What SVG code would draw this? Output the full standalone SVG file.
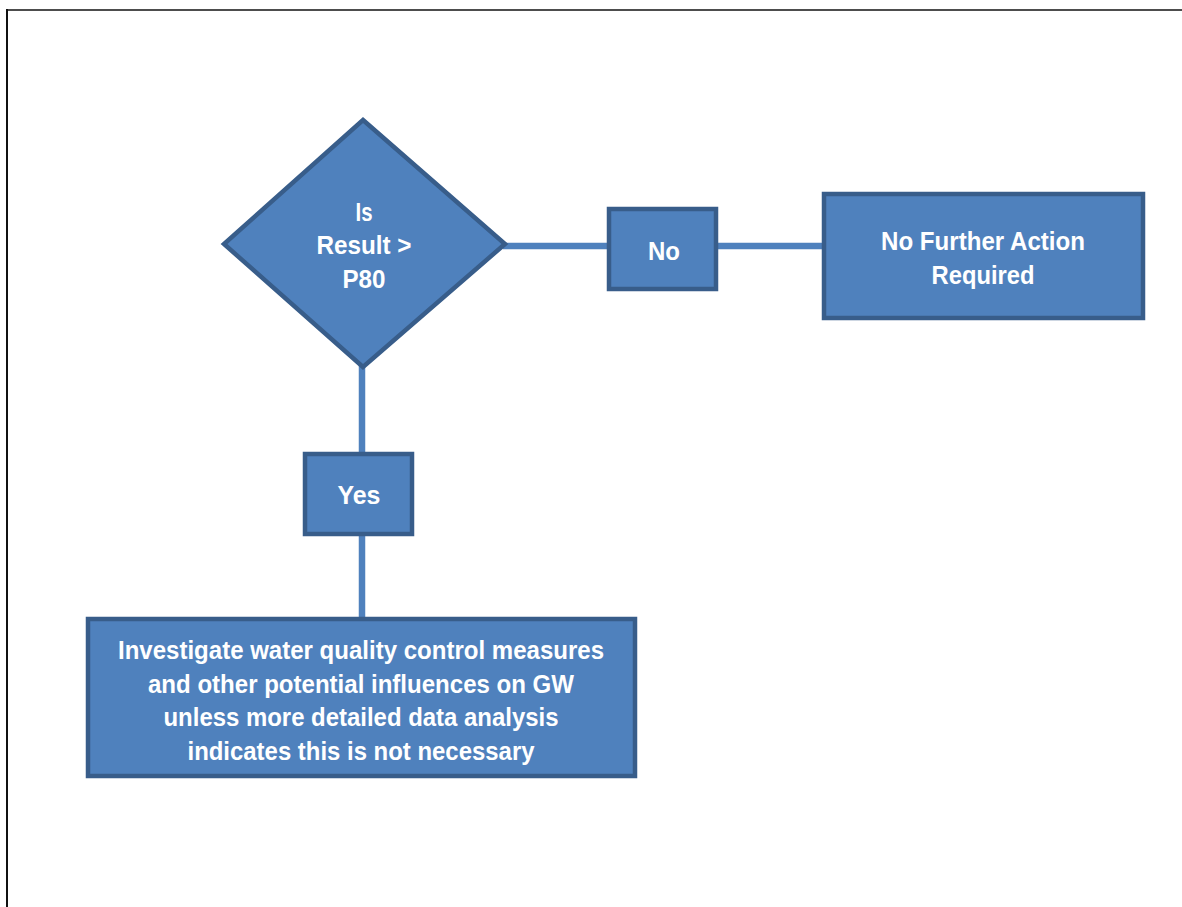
<svg xmlns="http://www.w3.org/2000/svg" width="1182" height="907" viewBox="0 0 1182 907">
  <style>
    .node { fill: #4f81bd; stroke: #385d8a; stroke-width: 4.5; }
    .conn { stroke: #4f81bd; stroke-width: 6.5; fill: none; }
    .lbl { font-family: "Liberation Sans", Arial, sans-serif; font-weight: bold; font-size: 26.5px; fill: #ffffff; text-anchor: middle; }
  </style>
  <rect x="0" y="0" width="1182" height="907" fill="#ffffff"/>
  <g id="frame">
    <line x1="6" y1="10" x2="1182" y2="10" stroke="#4d4d4d" stroke-width="2"/>
    <line x1="7" y1="9" x2="7" y2="907" stroke="#111111" stroke-width="2"/>
  </g>
  <g id="connectors">
    <line class="conn" x1="503" y1="246" x2="609" y2="246"/>
    <line class="conn" x1="718" y1="246" x2="824" y2="246"/>
    <line class="conn" x1="362" y1="365" x2="362" y2="454"/>
    <line class="conn" x1="362" y1="536" x2="362" y2="619"/>
  </g>
  <g id="decision">
    <polygon class="node" points="363,120 505,244 363,367 224,244"/>
    <text class="lbl" x="364" y="220.5" textLength="17" lengthAdjust="spacingAndGlyphs">Is</text>
    <text class="lbl" x="364" y="254" textLength="95" lengthAdjust="spacingAndGlyphs">Result &gt;</text>
    <text class="lbl" x="364" y="287.5" textLength="43" lengthAdjust="spacingAndGlyphs">P80</text>
  </g>
  <g id="no">
    <rect class="node" x="609" y="209" width="107" height="80"/>
    <text class="lbl" x="664" y="259.5" textLength="32" lengthAdjust="spacingAndGlyphs">No</text>
  </g>
  <g id="no-action">
    <rect class="node" x="824" y="194" width="319" height="124"/>
    <text class="lbl" x="983" y="249.5" textLength="204" lengthAdjust="spacingAndGlyphs">No Further Action</text>
    <text class="lbl" x="983" y="283.5" textLength="103" lengthAdjust="spacingAndGlyphs">Required</text>
  </g>
  <g id="yes">
    <rect class="node" x="305" y="454" width="107" height="80"/>
    <text class="lbl" x="359" y="503.5" textLength="43" lengthAdjust="spacingAndGlyphs">Yes</text>
  </g>
  <g id="investigate">
    <rect class="node" x="88" y="619" width="547" height="157"/>
    <text class="lbl" x="361" y="659" textLength="486" lengthAdjust="spacingAndGlyphs">Investigate water quality control measures</text>
    <text class="lbl" x="361" y="692.5" textLength="426" lengthAdjust="spacingAndGlyphs">and other potential influences on GW</text>
    <text class="lbl" x="361" y="726" textLength="395" lengthAdjust="spacingAndGlyphs">unless more detailed data analysis</text>
    <text class="lbl" x="361" y="759.5" textLength="347" lengthAdjust="spacingAndGlyphs">indicates this is not necessary</text>
  </g>
</svg>
